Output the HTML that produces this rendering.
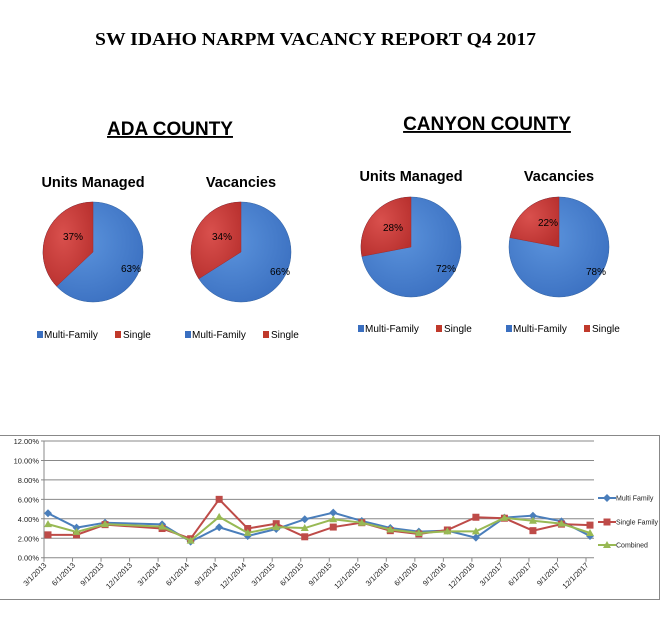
<!DOCTYPE html>
<html><head><meta charset="utf-8"><style>
body{margin:0;background:#fff;width:664px;height:629px;overflow:hidden}
svg{display:block}
text{font-family:"Liberation Sans",sans-serif}
</style></head><body>
<svg id="root" width="664" height="629" viewBox="0 0 664 629">
<defs>
<radialGradient id="gb" cx="40%" cy="40%" r="70%"><stop offset="0" stop-color="#5b93dc"/><stop offset="1" stop-color="#3a6fc0"/></radialGradient>
<radialGradient id="gr" cx="40%" cy="40%" r="70%"><stop offset="0" stop-color="#d9504d"/><stop offset="1" stop-color="#b8302e"/></radialGradient>
</defs>
<text x="95" y="45" textLength="441" lengthAdjust="spacingAndGlyphs" style="font-family:'Liberation Serif',serif;font-weight:bold;font-size:18px">SW IDAHO NARPM VACANCY REPORT Q4 2017</text>
<text x="170" y="135" text-anchor="middle" style="font-weight:bold;font-size:19px;text-decoration:underline">ADA COUNTY</text>
<text x="487" y="130" text-anchor="middle" style="font-weight:bold;font-size:19px;text-decoration:underline">CANYON COUNTY</text>
<g id="pies"></g>
<g id="line"></g>
</svg>
<script>
const NS='http://www.w3.org/2000/svg';
function mk(t,a,p){const e=document.createElementNS(NS,t);for(const k in a)e.setAttribute(k,a[k]);p.appendChild(e);return e;}
// Pie data
const pieTitles=['Units Managed','Vacancies','Units Managed','Vacancies'];
const pieSingle=[37,34,28,22];
const pieMulti=[63,66,72,78];
const pieCx=[93,241,411,559],pieCy=[252,252,247,247],titleY=[187,187,181,181],legY=[338,338,332,332],legX=[37,185,358,506];
const slLab=[[63,240,121,272],[212,240,270,275],[383,231,436,272],[538,226,586,275]];
const pg=document.getElementById('pies');
for(let i=0;i<4;i++){
  const g=mk('g',{},pg);
  
  
  const cx=pieCx[i],cy=pieCy[i],r=50;
  const t=mk('text',{x:cx,y:titleY[i],'text-anchor':'middle','font-size':'14.5','font-weight':'bold'},g);
  t.textContent=pieTitles[i];
  const tot=pieSingle[i]+pieMulti[i];
  const a=pieSingle[i]/tot*2*Math.PI;
  const ex=cx-r*Math.sin(a),ey=cy-r*Math.cos(a);
  const b=mk('circle',{cx:cx,cy:cy,r:r,fill:'url(#gb)',stroke:'#2f5f9f','stroke-width':0.5},g);
  
  const rs=mk('path',{d:`M${cx},${cy}L${cx},${cy-r}A${r},${r} 0 ${a>Math.PI?1:0} 0 ${ex},${ey}Z`,fill:'url(#gr)',stroke:'#a02a28','stroke-width':0.5},g);
  
  const l1=mk('text',{x:slLab[i][0],y:slLab[i][1],'font-size':'10'},g);
  l1.textContent=pieSingle[i]+'%';
  const l2=mk('text',{x:slLab[i][2],y:slLab[i][3],'font-size':'10'},g);
  l2.textContent=pieMulti[i]+'%';
  const lx=legX[i],ly=legY[i];
  const s1=mk('rect',{x:lx,y:ly-7,width:6,height:7,fill:'#3a6fc0'},g);
  
  const tt1=mk('text',{x:lx+7,y:ly,'font-size':'10'},g);
  tt1.textContent='Multi-Family';
  const s2=mk('rect',{x:lx+78,y:ly-7,width:6,height:7,fill:'#c0392b'},g);
  
  const tt2=mk('text',{x:lx+86,y:ly,'font-size':'10'},g);
  tt2.textContent='Single';
}
</script>
<script>
// Line chart data
const categories=['3/1/2013','6/1/2013','9/1/2013','12/1/2013','3/1/2014','6/1/2014','9/1/2014','12/1/2014','3/1/2015','6/1/2015','9/1/2015','12/1/2015','3/1/2016','6/1/2016','9/1/2016','12/1/2016','3/1/2017','6/1/2017','9/1/2017','12/1/2017'];
const multiFamily=[4.57,3.09,3.6,null,3.43,1.65,3.13,2.23,2.95,3.95,4.63,3.78,3.06,2.68,2.78,2.06,4.12,4.32,3.74,2.23];
const singleFamily=[2.35,2.35,3.4,null,3.0,1.95,6.0,3.0,3.5,2.15,3.15,3.6,2.78,2.44,2.85,4.16,4.06,2.78,3.45,3.35];
const combined=[3.45,2.65,3.45,null,3.2,1.75,4.2,2.55,3.15,3.05,3.95,3.6,2.9,2.54,2.71,2.71,4.1,3.8,3.5,2.54];
const yTicks=[0,2,4,6,8,10,12];
const lg=document.getElementById('line');
const X0=44,X1=586,Y0=557.7,Y1=441;
const xs=i=>X0+i*(X1-X0)/(categories.length-1);
const ys=v=>Y0-(v/12)*(Y0-Y1);
const fr=mk('path',{d:'M0,435.5H659.5V599.5H0',fill:'none',stroke:'#888','stroke-width':1},lg);

yTicks.forEach(v=>{
  const l=mk('line',{x1:X0-3,x2:X1+8,y1:ys(v),y2:ys(v),stroke:'#888','stroke-width':1},lg);
  
  const t=mk('text',{x:X0-5,y:ys(v)+3,'text-anchor':'end','font-size':'7.5',fill:'#222'},lg);
  t.textContent=v.toFixed(2)+'%';
});
const ax=mk('line',{x1:X0,x2:X0,y1:Y1,y2:Y0,stroke:'#888'},lg);

categories.forEach((c,i)=>{
  const tk=mk('line',{x1:xs(i),x2:xs(i),y1:Y0,y2:Y0+4,stroke:'#888'},lg);
  
  const t=mk('text',{x:0,y:0,'text-anchor':'end','font-size':'7.5',fill:'#222',transform:`translate(${xs(i)+3},${Y0+8}) rotate(-45)`},lg);
  t.textContent=c;
});
const series=[[multiFamily,'#4a7ebb','diamond','Multi Family',498],[singleFamily,'#be4b48','square','Single Family',522],[combined,'#98b954','triangle','Combined',545]];
function marker(shape,x,y,col,p){
  let e;
  if(shape==='diamond')e=mk('path',{d:`M${x},${y-4}L${x+4},${y}L${x},${y+4}L${x-4},${y}Z`,fill:col},p);
  else if(shape==='square')e=mk('rect',{x:x-3.5,y:y-3.5,width:7,height:7,fill:col},p);
  else e=mk('path',{d:`M${x},${y-4}L${x+4},${y+3}L${x-4},${y+3}Z`,fill:col},p);
  return e;
}
series.forEach(([vals,col,shape,name,ly])=>{
  const g=mk('g',{},lg);
  
  
  const pts=[];vals.forEach((v,i)=>{if(v!=null)pts.push([xs(i)+4,ys(v)]);});
  const pl=mk('polyline',{points:pts.map(p=>p.join(',')).join(' '),fill:'none',stroke:col,'stroke-width':2},g);
  
  pts.forEach(p=>{const m=marker(shape,p[0],p[1],col,g);
    
    });
  const ll=mk('line',{x1:598,x2:616,y1:ly,y2:ly,stroke:col,'stroke-width':2},g);
  
  const lm=marker(shape,607,ly,col,g);
  
  
  const lt=mk('text',{x:616,y:ly+2.5,'font-size':'7',fill:'#222'},g);
  lt.textContent=name;
});
</script>
</body></html>
